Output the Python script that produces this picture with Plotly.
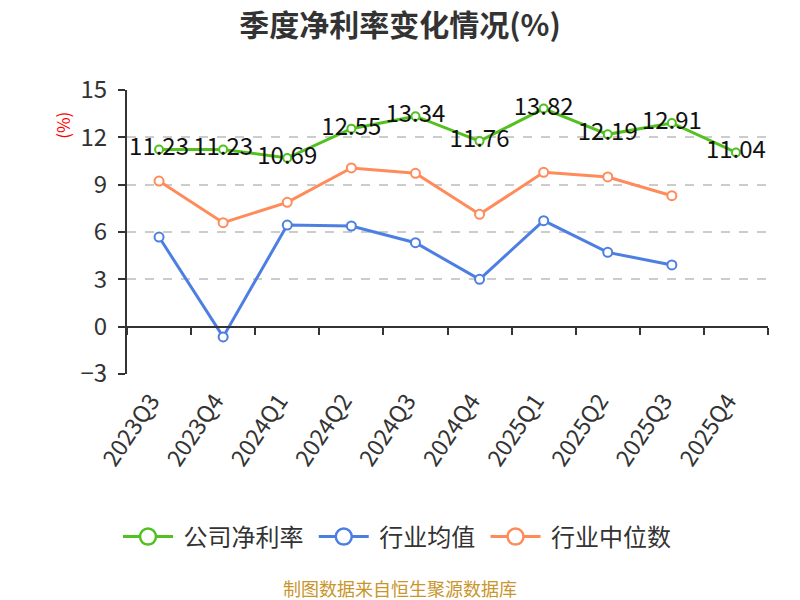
import plotly.graph_objects as go

quarters = ["2023Q3", "2023Q4", "2024Q1", "2024Q2", "2024Q3", "2024Q4",
            "2025Q1", "2025Q2", "2025Q3", "2025Q4"]
company = [11.23, 11.23, 10.69, 12.55, 13.34, 11.76, 13.82, 12.19, 12.91, 11.04]
industry_avg = [5.68, -0.65, 6.44, 6.38, 5.32, 3.00, 6.72, 4.71, 3.91, None]
industry_median = [9.23, 6.59, 7.88, 10.06, 9.72, 7.12, 9.78, 9.49, 8.30, None]
y_ticks = [-3, 0, 3, 6, 9, 12, 15]
series_names = ["公司净利率", "行业均值", "行业中位数"]

GREEN = "#52c11f"
BLUE = "#4d7fe3"
ORANGE = "#ff8b5a"
FONT = "Noto Sans CJK SC"
NB = "\u00a0"

fig = go.Figure()
fig.add_trace(go.Scatter(
    x=quarters, y=company, name=series_names[0], mode="lines+markers+text",
    showlegend=False,
    line=dict(color=GREEN, width=3),
    marker=dict(symbol="circle", size=8, color="white", line=dict(color=GREEN, width=2)),
    text=[f"{v:.2f}" for v in company], textposition="middle center",
    textfont=dict(size=24, color="#111", family=FONT),
))
fig.add_trace(go.Scatter(
    x=quarters, y=industry_avg, name=series_names[1], mode="lines+markers",
    showlegend=False,
    line=dict(color=BLUE, width=3),
    marker=dict(symbol="circle", size=9, color="white", line=dict(color=BLUE, width=2)),
))
fig.add_trace(go.Scatter(
    x=quarters, y=industry_median, name=series_names[2], mode="lines+markers",
    showlegend=False,
    line=dict(color=ORANGE, width=3),
    marker=dict(symbol="circle", size=9, color="white", line=dict(color=ORANGE, width=2)),
))
# legend-only entries with larger symbols
for nm, col in zip(series_names, [GREEN, BLUE, ORANGE]):
    fig.add_trace(go.Scatter(
        x=[None], y=[None], name=NB + nm + NB, mode="lines+markers",
        line=dict(color=col, width=3),
        marker=dict(symbol="circle", size=16, color="white", line=dict(color=col, width=2.5)),
    ))
# helper trace for the zero-line axis (ticks between categories)
fig.add_trace(go.Scatter(x=quarters, y=[None] * len(quarters), xaxis="x2",
                         showlegend=False, hoverinfo="skip", mode="lines"))

CENTER_X = (400 - 127) / 641  # page centre in plot-area (paper) units

fig.update_layout(
    width=800, height=600,
    paper_bgcolor="white", plot_bgcolor="white",
    margin=dict(l=127, r=32, t=90, b=226),
    font=dict(family=FONT, color="#333"),
    title=dict(text="<b>季度净利率变化情况(%)</b>", x=0.5, xanchor="center",
               y=0.958, yanchor="middle", font=dict(size=30, color="#333", family=FONT)),
    showlegend=True,
    legend=dict(orientation="h", x=CENTER_X, xanchor="center", y=-0.574, yanchor="middle",
                font=dict(size=24, color="#333", family=FONT), itemwidth=50),
    xaxis=dict(type="category", categoryorder="array", categoryarray=quarters,
               range=[-0.5, 9.5], showline=False, showgrid=False, ticks="",
               tickangle=-56, ticklabelstandoff=8, ticklabelshift=-8,
               tickfont=dict(size=23, color="#333", family=FONT)),
    xaxis2=dict(type="category", categoryorder="array", categoryarray=quarters,
                range=[-0.5, 9.5], overlaying="x", anchor="free", position=3 / 18,
                showline=True, linecolor="#333", linewidth=2, ticks="outside",
                tickson="boundaries", ticklen=7, tickwidth=2, tickcolor="#333",
                showticklabels=False, showgrid=False),
    yaxis=dict(range=[-3, 15], tickvals=y_ticks, showline=True, linecolor="#333",
               linewidth=2, ticks="outside", ticklen=7, tickwidth=2, tickcolor="#333",
               ticklabelstandoff=6,
               showgrid=True, gridcolor="#cccccc", griddash="dash", gridwidth=1.5,
               zeroline=False, tickfont=dict(size=24, color="#333", family=FONT)),
    annotations=[
        dict(text="(%)", x=-0.1, y=0.877, xref="paper", yref="paper",
             xanchor="center", yanchor="middle",
             textangle=-90, showarrow=False, font=dict(size=17, color="red", family=FONT)),
        dict(text="制图数据来自恒生聚源数据库", x=CENTER_X, xref="paper", y=-0.754, yref="paper",
             xanchor="center", yanchor="middle", showarrow=False,
             font=dict(size=18, color="#c9952c", family=FONT)),
    ],
)

fig.write_html("out.html")
